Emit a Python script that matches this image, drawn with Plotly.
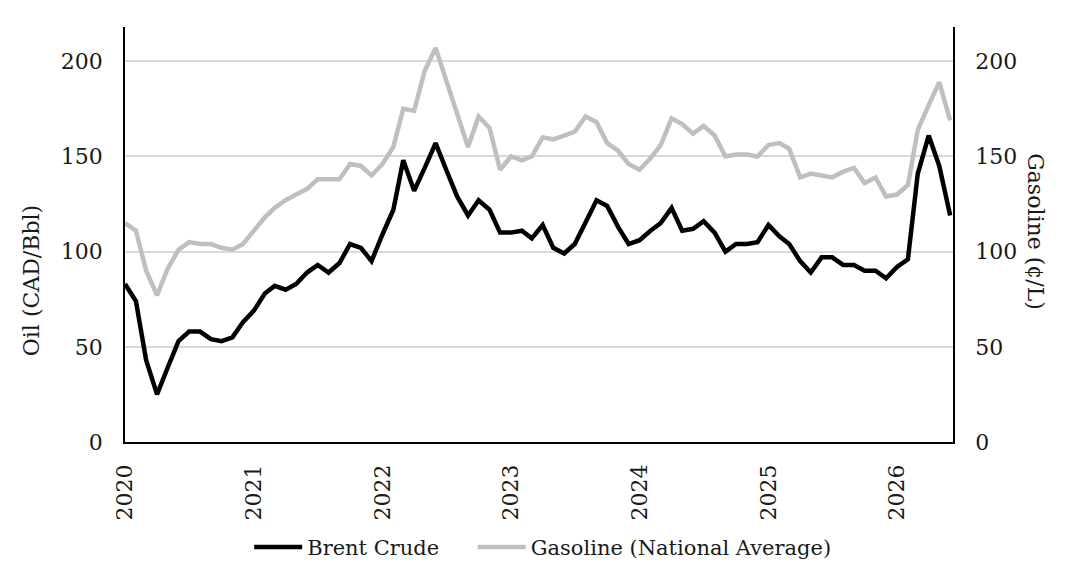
import pandas as pd
import plotly.graph_objects as go

# monthly series, Jan 2020 to Jun 2026
months = pd.date_range("2020-01-01", periods=78, freq="MS")

brent_crude = [
    83, 74, 43, 25, 39, 53, 58, 58, 54, 53, 55, 63,
    69, 78, 82, 80, 83, 89, 93, 89, 94, 104, 102, 95,
    109, 122, 148, 132, 144, 157, 143, 129, 119, 127, 122, 110,
    110, 111, 107, 114, 102, 99, 104, 115, 127, 124, 113, 104,
    106, 111, 115, 123, 111, 112, 116, 110, 100, 104, 104, 105,
    114, 108, 104, 95, 89, 97, 97, 93, 93, 90, 90, 86,
    92, 96, 141, 161, 145, 119,
]

gasoline = [
    115, 111, 90, 77, 91, 101, 105, 104, 104, 102, 101, 104,
    111, 118, 123, 127, 130, 133, 138, 138, 138, 146, 145, 140,
    146, 155, 175, 174, 195, 207, 190, 173, 155, 171, 165, 143,
    150, 148, 150, 160, 159, 161, 163, 171, 168, 157, 153, 146,
    143, 149, 156, 170, 167, 162, 166, 161, 150, 151, 151, 150,
    156, 157, 154, 139, 141, 140, 139, 142, 144, 136, 139, 129,
    130, 135, 164, 177, 189, 169,
]

y_ticks = [0, 50, 100, 150, 200]
year_ticks = [f"{y}-01-01" for y in range(2020, 2027)]
year_labels = [str(y) for y in range(2020, 2027)]

FONT = "DejaVu Serif"
TXT = "#1a1a1a"

fig = go.Figure()
# gasoline first so the black line sits on top
fig.add_trace(go.Scatter(x=months, y=gasoline, name="Gasoline (National Average)", mode="lines",
                         line=dict(color="#bfbfbf", width=4.5), yaxis="y2",
                         legend="legend2", showlegend=True))
fig.add_trace(go.Scatter(x=months, y=brent_crude, name="Brent Crude", mode="lines",
                         line=dict(color="#000000", width=4.5),
                         legend="legend", showlegend=True))

yaxis_common = dict(range=[0, 218], tickvals=y_ticks, showline=True, linecolor="#000000",
                    linewidth=1.5, zeroline=False, ticks="", ticklabelstandoff=16,
                    tickfont=dict(family=FONT, size=22, color=TXT))

legend_common = dict(orientation="h", y=-0.254, yanchor="middle", xanchor="left",
                     itemwidth=48, font=dict(family=FONT, size=21, color=TXT),
                     bgcolor="rgba(0,0,0,0)")

fig.update_layout(
    width=1072, height=573,
    margin=dict(l=117, r=127, t=19, b=139),
    plot_bgcolor="white", paper_bgcolor="white",
    font=dict(family=FONT, color=TXT),
    showlegend=True,
    xaxis=dict(range=["2020-01-01", "2026-06-09"], tickvals=year_ticks, ticktext=year_labels,
               tickangle=-90, showline=True, linecolor="#000000", linewidth=1.5,
               showgrid=False, zeroline=False, ticks="", ticklabelstandoff=12,
               tickfont=dict(family=FONT, size=22, color=TXT)),
    yaxis=dict(**yaxis_common, showgrid=True, gridcolor="#d9d9d9", gridwidth=1.5),
    yaxis2=dict(**yaxis_common, overlaying="y", side="right", showgrid=False),
    legend=dict(**legend_common, x=0.15),
    legend2=dict(**legend_common, x=0.42),
    annotations=[
        dict(text="Oil (CAD/Bbl)", xref="paper", yref="paper", x=-0.1135, y=0.3875,
             xanchor="center", yanchor="middle", textangle=-90, showarrow=False,
             font=dict(family=FONT, size=22, color=TXT)),
        dict(text="Gasoline (¢/L)", xref="paper", yref="paper", x=1.1002, y=0.5057,
             xanchor="center", yanchor="middle", textangle=90, showarrow=False,
             font=dict(family=FONT, size=22, color=TXT)),
    ],
)

fig.write_html("out.html")
